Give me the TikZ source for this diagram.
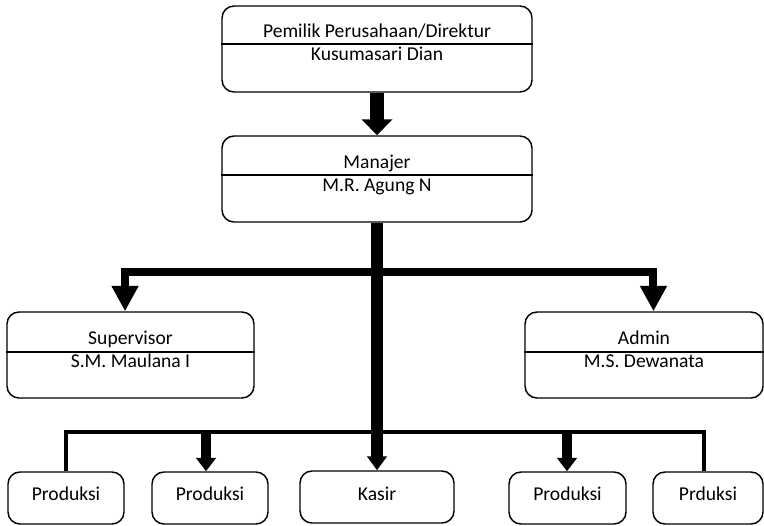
\documentclass[tikz,border=0pt]{standalone}
\usepackage{fontspec}
\setmainfont{Carlito}
\usetikzlibrary{arrows.meta}
\begin{document}
\begin{tikzpicture}[x=0.75pt,y=-0.75pt,
  box/.style={draw=black, line width=1.1pt, rounded corners=9pt, inner sep=0pt},
  bigbox/.style={box, minimum height=64.5pt},
  smallbox/.style={box, minimum height=39pt},
  div/.style={draw=black, line width=1.1pt},
  txt/.style={font=\fontsize{14.7}{17}\selectfont, inner sep=0pt, anchor=base},
  toparrow/.style={line width=10.5pt, -{Triangle[width=22.5pt,length=12pt]}},
  trunk/.style={line width=9pt, -{Triangle[width=14.5pt,length=10.5pt]}},
  sidearrow/.style={line width=6pt, -{Triangle[width=19pt,length=19pt]}},
  thinbar/.style={line width=3pt},
  lowarrow/.style={line width=7.5pt, -{Triangle[width=14.5pt,length=10pt]}}
]
\useasboundingbox (0,0) rectangle (764,525);

% boxes
\node[bigbox, minimum width=232.5pt] (top) at (377,49) {};
\node[bigbox, minimum width=232.5pt] (man) at (377,179) {};
\node[bigbox, minimum width=185.25pt] (sup) at (130.5,355) {};
\node[bigbox, minimum width=178.5pt] (adm) at (644,355) {};
\node[smallbox, minimum width=87pt] (p1) at (66,498) {};
\node[smallbox, minimum width=87pt] (p2) at (210,498) {};
\node[smallbox, minimum width=115.5pt] (kas) at (377,497) {};
\node[smallbox, minimum width=87.75pt] (p3) at (567.5,498) {};
\node[smallbox, minimum width=82.5pt] (p5) at (708,498) {};

% dividers
\draw[div] (top.west |- 0,44) -- (top.east |- 0,44);
\draw[div] (man.west |- 0,175) -- (man.east |- 0,175);
\draw[div] (sup.west |- 0,352) -- (sup.east |- 0,352);
\draw[div] (adm.west |- 0,352) -- (adm.east |- 0,352);

% texts
\node[txt] (topa) at (377,37) {Pemilik Perusahaan/Direktur};
\node[txt] (topb) at (377,60) {Kusumasari Dian};
\node[txt] (mana) at (377,168) {Manajer};
\node[txt] (manb) at (377,191) {M.R. Agung N};
\node[txt] (supa) at (130.5,344) {Supervisor};
\node[txt] (supb) at (130.5,367) {S.M. Maulana I};
\node[txt] (adma) at (644,344) {Admin};
\node[txt] (admb) at (644,367) {M.S. Dewanata};
\node[txt] (p1t) at (66,500) {Produksi};
\node[txt] (p2t) at (210,500) {Produksi};
\node[txt] (kast) at (377,500) {Kasir};
\node[txt] (p3t) at (567.5,500) {Produksi};
\node[txt] (p5t) at (708,500) {Prduksi};

% connectors
\draw[toparrow] (top) -- (man);
\coordinate (hb) at (377,272);
\coordinate (lb) at (377,431.5);
\draw[sidearrow] (hb) -| ([xshift=-4.1pt]sup.north);
\draw[sidearrow] (hb) -| ([xshift=7.1pt]adm.north);
\draw[thinbar] (p1.north) |- (lb) -| ([xshift=-3pt]p5.north);
\coordinate (p2a) at (206,431.5);
\coordinate (p3a) at (567,431.5);
\draw[lowarrow] (p2a) -- (p2a |- p2.north);
\draw[lowarrow] (p3a) -- (p3a |- p3.north);
\draw[trunk] (man) -- (kas);
\end{tikzpicture}
\end{document}
